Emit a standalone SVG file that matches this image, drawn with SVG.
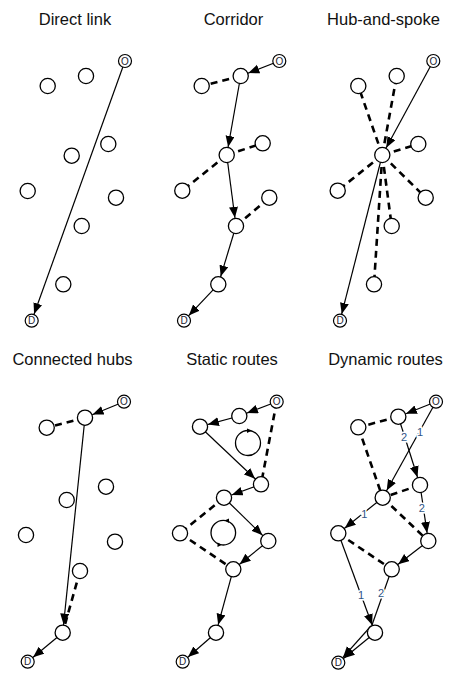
<svg xmlns="http://www.w3.org/2000/svg" width="457" height="676" viewBox="0 0 457 676">
<style>
.t{font-family:"Liberation Sans",Arial,sans-serif;font-size:16.5px;text-anchor:middle;fill:#111}
.e{stroke:#000;stroke-width:1.2;fill:none}
.d{stroke:#000;stroke-width:2.6;stroke-dasharray:7 5;fill:none}
.n{fill:#fff;stroke:#000;stroke-width:1.3}
.od{fill:#fff;stroke:#000;stroke-width:1.2}
.ol{font-family:"Liberation Sans",Arial,sans-serif;font-size:10px;text-anchor:middle;fill:#1a1a2e}
.lb{font-family:"Liberation Sans",Arial,sans-serif;font-size:11px;text-anchor:middle;fill:#2f5487;stroke:#fff;stroke-width:3;paint-order:stroke}
.lp{fill:none;stroke:#000;stroke-width:1.3}
</style>
<defs>
<marker id="a" markerUnits="userSpaceOnUse" markerWidth="12" markerHeight="10" refX="19.2" refY="4.5" orient="auto"><path d="M0,0 L11,4.5 L0,9 z" fill="#000"/></marker>
<marker id="ad" markerUnits="userSpaceOnUse" markerWidth="12" markerHeight="10" refX="18" refY="4.5" orient="auto"><path d="M0,0 L11,4.5 L0,9 z" fill="#000"/></marker>
</defs>

<g id="titles">
<text class="t" x="75" y="25">Direct link</text>
<text class="t" x="233.5" y="25">Corridor</text>
<text class="t" x="383.5" y="25">Hub-and-spoke</text>
<text class="t" x="72.5" y="365">Connected hubs</text>
<text class="t" x="232" y="365">Static routes</text>
<text class="t" x="385.5" y="365">Dynamic routes</text>
</g>

<g id="connectors">
<!-- Direct link -->
<line class="e" x1="125" y1="61" x2="31.7" y2="320.7" marker-end="url(#ad)"/>
<!-- Corridor -->
<line class="e" x1="279.3" y1="61" x2="240.7" y2="76" marker-end="url(#a)"/>
<line class="d" x1="240.7" y1="76" x2="201.7" y2="86"/>
<line class="e" x1="240.7" y1="76" x2="226.7" y2="155" marker-end="url(#a)"/>
<line class="d" x1="226.7" y1="155" x2="262.7" y2="143.3"/>
<line class="d" x1="226.7" y1="155" x2="182.3" y2="190.7"/>
<line class="e" x1="226.7" y1="155" x2="236" y2="226" marker-end="url(#a)"/>
<line class="d" x1="236" y1="226" x2="269.3" y2="197.7"/>
<line class="e" x1="236" y1="226" x2="218.3" y2="284.3" marker-end="url(#a)"/>
<line class="e" x1="218.3" y1="284.3" x2="184" y2="320.7" marker-end="url(#ad)"/>
<!-- Hub-and-spoke -->
<line class="d" x1="382.3" y1="155" x2="358.3" y2="86"/>
<line class="d" x1="382.3" y1="155" x2="396.7" y2="76"/>
<line class="d" x1="382.3" y1="155" x2="418.3" y2="144"/>
<line class="d" x1="382.3" y1="155" x2="337.7" y2="190.7"/>
<line class="d" x1="382.3" y1="155" x2="425.7" y2="197.7"/>
<line class="d" x1="382.3" y1="155" x2="391.7" y2="226"/>
<line class="d" x1="382.3" y1="155" x2="374" y2="284.3"/>
<line class="e" x1="433.3" y1="61" x2="382.3" y2="155" marker-end="url(#a)"/>
<line class="e" x1="382.3" y1="155" x2="340" y2="320.7" marker-end="url(#ad)"/>
<!-- Connected hubs -->
<line class="e" x1="124" y1="401.7" x2="85" y2="417.7" marker-end="url(#a)"/>
<line class="d" x1="85" y1="417.7" x2="46.7" y2="427.7"/>
<line class="e" x1="85" y1="417.7" x2="62.7" y2="632.7" marker-end="url(#a)"/>
<line class="d" x1="80" y1="571" x2="62.7" y2="632.7"/>
<line class="e" x1="62.7" y1="632.7" x2="27.7" y2="661.7" marker-end="url(#ad)"/>
<!-- Static routes -->
<line class="e" x1="276.7" y1="401.7" x2="239.3" y2="416" marker-end="url(#a)"/>
<line class="e" x1="239.3" y1="416" x2="200" y2="426.7" marker-end="url(#a)"/>
<line class="e" x1="200" y1="426.7" x2="261" y2="484.3" marker-end="url(#a)"/>
<line class="d" x1="276.7" y1="401.7" x2="261" y2="484.3"/>
<line class="e" x1="261" y1="484.3" x2="224" y2="497.7" marker-end="url(#a)"/>
<line class="e" x1="224" y1="497.7" x2="268.3" y2="541" marker-end="url(#a)"/>
<line class="d" x1="224" y1="497.7" x2="180" y2="533.3"/>
<line class="d" x1="180" y1="533.3" x2="233.3" y2="569.3"/>
<line class="e" x1="268.3" y1="541" x2="233.3" y2="569.3" marker-end="url(#a)"/>
<line class="e" x1="233.3" y1="569.3" x2="216" y2="632.7" marker-end="url(#a)"/>
<line class="e" x1="216" y1="632.7" x2="182.7" y2="661.7" marker-end="url(#ad)"/>
<!-- Dynamic routes -->
<line class="e" x1="436" y1="401.7" x2="398.3" y2="416.7" marker-end="url(#a)"/>
<line class="d" x1="398.3" y1="416.7" x2="358.3" y2="427.3"/>
<line class="d" x1="358.3" y1="427.3" x2="382.7" y2="497.7"/>
<line class="d" x1="420" y1="485" x2="382.7" y2="497.7"/>
<line class="d" x1="382.7" y1="497.7" x2="428.3" y2="541"/>
<line class="d" x1="338.3" y1="533.3" x2="391.7" y2="569.3"/>
<line class="e" x1="436" y1="401.7" x2="382.7" y2="497.7" marker-end="url(#a)"/>
<line class="e" x1="398.3" y1="416.7" x2="420" y2="485" marker-end="url(#a)"/>
<line class="e" x1="420" y1="485" x2="428.3" y2="541" marker-end="url(#a)"/>
<line class="e" x1="382.7" y1="497.7" x2="338.3" y2="533.3" marker-end="url(#a)"/>
<line class="e" x1="428.3" y1="541" x2="391.7" y2="569.3" marker-end="url(#a)"/>
<line class="e" x1="338.3" y1="533.3" x2="375" y2="632.7" marker-end="url(#a)"/>
<line class="e" x1="391.7" y1="569.3" x2="372" y2="625"/>
<line class="e" x1="371" y1="626" x2="338.3" y2="662.7" marker-end="url(#ad)"/>
<line class="e" x1="375" y1="632.7" x2="338.3" y2="662.7" marker-end="url(#ad)"/>
</g>

<g id="edge-labels">
<text class="lb" x="420" y="435.5">1</text>
<text class="lb" x="404" y="440.5">2</text>
<text class="lb" x="364.3" y="518">1</text>
<text class="lb" x="421.7" y="512">2</text>
<text class="lb" x="361" y="599">1</text>
<text class="lb" x="381" y="597">2</text>
</g>

<g id="loops">
<circle class="lp" cx="248" cy="443" r="12.5"/>
<path d="M247,428.5 L252,430.5 L247,433 z" fill="#000"/>
<circle class="lp" cx="223.3" cy="532.7" r="12.3"/>
<path d="M229,518.5 L224.5,520.5 L229,523 z" fill="#000"/>
<path d="M217.5,542.5 L222,544.8 L217.5,547 z" fill="#000"/>
</g>

<!-- Panel 1 nodes -->
<g id="p1-O"><circle class="od" cx="125" cy="61" r="6.5"/><text class="ol" x="125" y="64.6">O</text></g>
<g id="p1-D"><circle class="od" cx="31.7" cy="320.7" r="6.5"/><text class="ol" x="31.7" y="324.3">D</text></g>
<g id="p1-n1"><circle class="n" cx="47.7" cy="86" r="7.6"/></g>
<g id="p1-n2"><circle class="n" cx="86" cy="76" r="7.6"/></g>
<g id="p1-n3"><circle class="n" cx="108.3" cy="144" r="7.6"/></g>
<g id="p1-n4"><circle class="n" cx="71.7" cy="155.7" r="7.6"/></g>
<g id="p1-n5"><circle class="n" cx="27.7" cy="191" r="7.6"/></g>
<g id="p1-n6"><circle class="n" cx="116" cy="197.7" r="7.6"/></g>
<g id="p1-n7"><circle class="n" cx="81.7" cy="226" r="7.6"/></g>
<g id="p1-n8"><circle class="n" cx="63.3" cy="284.3" r="7.6"/></g>

<!-- Panel 2 nodes -->
<g id="p2-O"><circle class="od" cx="279.3" cy="61" r="6.5"/><text class="ol" x="279.3" y="64.6">O</text></g>
<g id="p2-D"><circle class="od" cx="184" cy="320.7" r="6.5"/><text class="ol" x="184" y="324.3">D</text></g>
<g id="p2-n1"><circle class="n" cx="240.7" cy="76" r="7.6"/></g>
<g id="p2-n2"><circle class="n" cx="201.7" cy="86" r="7.6"/></g>
<g id="p2-n3"><circle class="n" cx="226.7" cy="155" r="7.6"/></g>
<g id="p2-n4"><circle class="n" cx="262.7" cy="143.3" r="7.6"/></g>
<g id="p2-n5"><circle class="n" cx="182.3" cy="190.7" r="7.6"/></g>
<g id="p2-n6"><circle class="n" cx="236" cy="226" r="7.6"/></g>
<g id="p2-n7"><circle class="n" cx="269.3" cy="197.7" r="7.6"/></g>
<g id="p2-n8"><circle class="n" cx="218.3" cy="284.3" r="7.6"/></g>

<!-- Panel 3 nodes -->
<g id="p3-O"><circle class="od" cx="433.3" cy="61" r="6.5"/><text class="ol" x="433.3" y="64.6">O</text></g>
<g id="p3-D"><circle class="od" cx="340" cy="320.7" r="6.5"/><text class="ol" x="340" y="324.3">D</text></g>
<g id="p3-hub"><circle class="n" cx="382.3" cy="155" r="7.6"/></g>
<g id="p3-n1"><circle class="n" cx="358.3" cy="86" r="7.6"/></g>
<g id="p3-n2"><circle class="n" cx="396.7" cy="76" r="7.6"/></g>
<g id="p3-n3"><circle class="n" cx="418.3" cy="144" r="7.6"/></g>
<g id="p3-n4"><circle class="n" cx="337.7" cy="190.7" r="7.6"/></g>
<g id="p3-n5"><circle class="n" cx="425.7" cy="197.7" r="7.6"/></g>
<g id="p3-n6"><circle class="n" cx="391.7" cy="226" r="7.6"/></g>
<g id="p3-n7"><circle class="n" cx="374" cy="284.3" r="7.6"/></g>

<!-- Panel 4 nodes -->
<g id="p4-O"><circle class="od" cx="124" cy="401.7" r="6.5"/><text class="ol" x="124" y="405.3">O</text></g>
<g id="p4-D"><circle class="od" cx="27.7" cy="661.7" r="6.5"/><text class="ol" x="27.7" y="665.3">D</text></g>
<g id="p4-h1"><circle class="n" cx="85" cy="417.7" r="7.6"/></g>
<g id="p4-n1"><circle class="n" cx="46.7" cy="427.7" r="7.6"/></g>
<g id="p4-n2"><circle class="n" cx="106" cy="486.7" r="7.6"/></g>
<g id="p4-n3"><circle class="n" cx="66.7" cy="500" r="7.6"/></g>
<g id="p4-n4"><circle class="n" cx="26" cy="535" r="7.6"/></g>
<g id="p4-n5"><circle class="n" cx="115" cy="541.7" r="7.6"/></g>
<g id="p4-n6"><circle class="n" cx="80" cy="571" r="7.6"/></g>
<g id="p4-h2"><circle class="n" cx="62.7" cy="632.7" r="7.6"/></g>

<!-- Panel 5 nodes -->
<g id="p5-O"><circle class="od" cx="276.7" cy="401.7" r="6.5"/><text class="ol" x="276.7" y="405.3">O</text></g>
<g id="p5-D"><circle class="od" cx="182.7" cy="661.7" r="6.5"/><text class="ol" x="182.7" y="665.3">D</text></g>
<g id="p5-n1"><circle class="n" cx="239.3" cy="416" r="7.6"/></g>
<g id="p5-n2"><circle class="n" cx="200" cy="426.7" r="7.6"/></g>
<g id="p5-n3"><circle class="n" cx="261" cy="484.3" r="7.6"/></g>
<g id="p5-n4"><circle class="n" cx="224" cy="497.7" r="7.6"/></g>
<g id="p5-n5"><circle class="n" cx="180" cy="533.3" r="7.6"/></g>
<g id="p5-n6"><circle class="n" cx="268.3" cy="541" r="7.6"/></g>
<g id="p5-n7"><circle class="n" cx="233.3" cy="569.3" r="7.6"/></g>
<g id="p5-n8"><circle class="n" cx="216" cy="632.7" r="7.6"/></g>

<!-- Panel 6 nodes -->
<g id="p6-O"><circle class="od" cx="436" cy="401.7" r="6.5"/><text class="ol" x="436" y="405.3">O</text></g>
<g id="p6-D"><circle class="od" cx="338.3" cy="662.7" r="6.5"/><text class="ol" x="338.3" y="666.3">D</text></g>
<g id="p6-n1"><circle class="n" cx="398.3" cy="416.7" r="7.6"/></g>
<g id="p6-n2"><circle class="n" cx="358.3" cy="427.3" r="7.6"/></g>
<g id="p6-n3"><circle class="n" cx="420" cy="485" r="7.6"/></g>
<g id="p6-hub"><circle class="n" cx="382.7" cy="497.7" r="7.6"/></g>
<g id="p6-n4"><circle class="n" cx="338.3" cy="533.3" r="7.6"/></g>
<g id="p6-n5"><circle class="n" cx="428.3" cy="541" r="7.6"/></g>
<g id="p6-n6"><circle class="n" cx="391.7" cy="569.3" r="7.6"/></g>
<g id="p6-n7"><circle class="n" cx="375" cy="632.7" r="7.6"/></g>
</svg>
